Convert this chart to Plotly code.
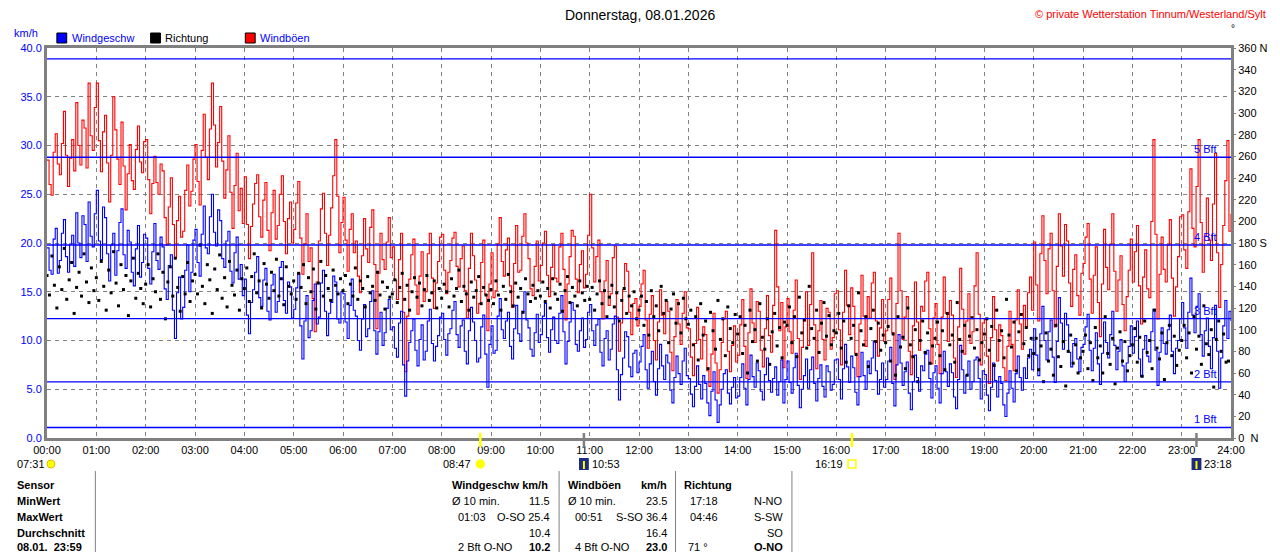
import plotly.graph_objects as go

# the page body has an 8px margin, so the figure is drawn offset by 8px
OFF = 8
W, H = 1280 - OFF, 552 - OFF
# plot area in screen pixels (left, right, top, bottom)
L, R, T, B = 40, 1240, 48, 438

BLUE = '#0000ff'
RED = '#ff0000'
GRID = '#808080'
FONT = 'Arial, Liberation Sans, sans-serif'

# wind speed km/h, one value every 2.5 minutes (00:00 ... 24:00)
wind_speed = [
    19.5, 17.2, 16.8, 20.4, 21.5, 16.9, 18.2, 21.0, 22.4, 18.6, 17.0, 19.9,
    20.8, 17.6, 23.1, 20.0, 18.5, 22.8, 21.9, 18.1, 24.2, 20.7, 19.6, 23.0,  # 00
    25.4, 20.2, 18.3, 23.7, 22.6, 18.9, 16.1, 19.8, 21.0, 16.7, 19.2, 22.1,
    23.5, 18.8, 17.4, 21.3, 20.1, 17.0, 15.6, 19.4, 21.8, 16.5, 18.0, 20.9,  # 01
    20.5, 17.4, 15.8, 19.1, 22.0, 18.2, 17.3, 20.6, 19.6, 15.3, 14.2, 17.7,
    18.8, 13.1, 10.2, 14.9, 16.5, 12.2, 13.4, 17.2, 19.8, 15.0, 17.0, 20.3,  # 02
    21.4, 18.0, 16.6, 20.9, 23.8, 19.5, 18.9, 22.7, 25.0, 21.1, 19.7, 23.4,
    22.3, 18.4, 17.5, 20.2, 21.2, 17.1, 15.9, 19.0, 20.6, 16.3, 17.8, 14.6,  # 03
    16.3, 12.6, 10.7, 13.9, 15.2, 17.0, 18.6, 14.4, 13.5, 16.2, 17.4, 13.0,
    12.1, 15.7, 16.8, 12.9, 14.0, 17.5, 18.1, 14.1, 12.8, 16.0, 15.5, 12.3,  # 04
    13.2, 15.4, 16.9, 11.5, 8.1, 12.0, 14.6, 10.3, 11.0, 14.1, 15.8, 11.7,
    12.4, 15.9, 17.2, 13.0, 10.5, 12.8, 13.9, 16.6, 16.0, 12.2, 11.8, 15.0,  # 05
    14.8, 11.9, 10.2, 13.6, 16.3, 13.1, 12.5, 10.0, 9.0, 12.2, 13.7, 10.4,
    11.2, 14.0, 15.1, 11.0, 8.6, 10.9, 12.9, 9.5, 10.8, 13.3, 14.2, 11.1,  # 06
    11.4, 9.2, 8.3, 11.8, 13.0, 7.5, 4.3, 7.9, 9.8, 11.0, 12.2, 9.0,
    7.4, 10.1, 11.6, 8.0, 8.9, 12.0, 13.2, 9.7, 7.9, 9.4, 10.5, 12.4,  # 07
    12.8, 10.1, 8.5, 10.7, 11.2, 13.1, 14.0, 10.6, 9.3, 11.5, 12.1, 8.9,
    7.6, 11.0, 13.4, 11.9, 10.0, 7.8, 8.2, 11.4, 12.6, 8.6, 5.2, 9.6,  # 08
    11.5, 8.7, 9.0, 12.5, 14.3, 11.1, 10.2, 12.0, 12.9, 9.4, 8.1, 11.2,
    13.6, 10.7, 9.9, 13.0, 15.0, 12.1, 11.3, 9.1, 8.4, 10.8, 12.7, 9.8,  # 09
    10.6, 12.5, 13.8, 10.3, 8.8, 11.1, 12.4, 10.0, 9.7, 12.8, 14.6, 10.9,
    7.6, 9.9, 11.9, 13.9, 13.1, 9.6, 8.9, 11.0, 12.3, 9.3, 10.1, 12.9,  # 10
    13.7, 11.0, 9.5, 11.6, 12.2, 8.8, 7.4, 10.2, 11.0, 8.0, 9.1, 11.7,
    12.5, 7.0, 3.9, 6.5, 8.2, 10.9, 10.4, 7.3, 6.3, 8.7, 9.0, 6.7,  # 11
    7.8, 9.4, 10.6, 7.0, 5.1, 7.6, 8.9, 5.8, 4.4, 7.1, 9.6, 7.4,
    6.0, 8.5, 7.7, 4.9, 3.6, 6.2, 8.4, 6.6, 5.5, 7.9, 9.2, 6.4,  # 12
    6.1, 4.5, 3.2, 5.3, 7.4, 5.5, 4.0, 6.4, 5.6, 3.6, 2.3, 4.8,
    6.8, 3.9, 1.6, 3.4, 5.0, 6.6, 7.0, 4.6, 3.5, 5.2, 6.2, 4.1,  # 13
    4.3, 6.2, 7.6, 5.1, 3.4, 6.0, 8.5, 6.3, 5.2, 7.7, 6.9, 4.8,
    3.9, 6.5, 8.2, 5.9, 4.7, 6.1, 7.3, 4.4, 5.8, 8.0, 3.6, 6.0,  # 14
    7.9, 5.7, 4.6, 7.2, 8.7, 5.4, 3.1, 5.0, 6.4, 8.1, 5.1, 7.0,
    8.3, 5.6, 3.8, 6.1, 7.5, 5.3, 4.2, 7.4, 6.8, 4.9, 5.5, 8.0,  # 15
    8.1, 6.0, 4.0, 7.1, 9.6, 7.3, 5.7, 8.4, 7.2, 4.7, 3.4, 6.3,
    8.8, 6.4, 5.0, 7.9, 6.6, 8.2, 9.9, 6.9, 4.5, 6.0, 7.7, 5.2,  # 16
    6.0, 7.9, 9.3, 5.6, 3.3, 7.5, 10.6, 7.7, 5.4, 6.8, 7.8, 4.6,
    2.9, 5.8, 8.5, 6.2, 4.8, 7.4, 6.9, 8.6, 9.0, 6.1, 4.1, 6.7,  # 17
    7.4, 5.1, 3.6, 6.6, 8.9, 6.8, 5.3, 7.6, 6.7, 4.2, 3.0, 6.0,
    9.5, 7.0, 4.6, 6.4, 7.9, 5.0, 5.8, 8.0, 8.3, 6.1, 4.0, 6.9,  # 18
    6.5, 4.4, 2.8, 5.2, 7.7, 5.9, 4.2, 6.3, 5.6, 3.4, 2.2, 4.6,
    6.9, 5.1, 3.7, 6.6, 8.4, 6.2, 4.9, 7.2, 6.1, 8.2, 9.1, 7.0,  # 19
    11.2, 8.5, 6.4, 10.7, 13.5, 10.0, 8.0, 10.9, 12.1, 8.3, 5.7, 9.9,
    14.4, 11.8, 9.1, 12.8, 11.6, 8.8, 7.3, 9.7, 10.2, 8.1, 6.8, 9.3,  # 20
    9.6, 11.4, 12.7, 9.0, 6.9, 9.2, 10.8, 7.6, 5.5, 8.7, 11.9, 9.8,
    8.2, 10.6, 13.0, 9.5, 7.0, 8.9, 10.1, 7.4, 5.8, 7.7, 9.4, 11.5,  # 21
    8.7, 10.4, 12.0, 8.1, 6.3, 9.1, 10.5, 8.4, 7.8, 10.9, 13.2, 9.0,
    5.4, 8.8, 11.3, 9.7, 8.6, 11.1, 12.6, 8.9, 6.6, 9.2, 10.0, 12.2,  # 22
    13.9, 11.3, 9.2, 12.9, 16.4, 12.6, 10.8, 13.5, 14.8, 10.6, 8.4, 11.0,
    12.3, 9.4, 7.1, 10.3, 13.6, 8.9, 5.1, 8.2, 11.5, 14.1, 10.2, 13.0, 12.0,  # 23
]

# gusts km/h, one value every 2.5 minutes
wind_gust = [
    28.5, 26.0, 24.9, 29.3, 31.2, 28.1, 27.0, 30.2, 33.5, 29.0, 25.8, 28.7,
    30.6, 27.4, 34.4, 30.0, 28.0, 32.6, 31.8, 27.7, 36.4, 31.0, 29.5, 33.9,  # 00
    36.4, 30.5, 27.3, 31.4, 33.1, 28.2, 24.2, 29.0, 35.0, 31.6, 28.6, 26.0,
    32.4, 27.9, 23.4, 27.1, 30.1, 26.4, 25.5, 29.6, 32.0, 28.3, 27.2, 30.4,  # 01
    30.6, 26.5, 23.0, 26.1, 28.9, 26.2, 25.0, 28.1, 27.4, 22.6, 19.8, 23.7,
    26.7, 21.9, 18.5, 22.3, 24.8, 20.6, 21.2, 25.4, 28.0, 23.8, 25.3, 28.6,  # 02
    30.1, 26.3, 23.9, 29.5, 33.2, 28.8, 26.5, 31.7, 36.4, 32.1, 27.8, 30.3,
    34.0, 28.4, 24.6, 27.5, 31.0, 25.2, 21.5, 25.9, 29.2, 23.3, 25.6, 22.0,  # 03
    26.8, 21.9, 18.4, 21.7, 24.0, 26.1, 27.0, 22.7, 20.6, 24.4, 26.2, 21.3,
    19.2, 23.1, 25.4, 20.4, 21.8, 25.0, 26.9, 22.2, 18.9, 22.5, 24.2, 20.0,  # 04
    21.4, 24.1, 26.3, 20.5, 16.8, 19.9, 23.0, 18.1, 19.5, 14.3, 10.9, 16.0,
    20.2, 23.5, 25.1, 21.0, 17.7, 20.8, 23.6, 26.9, 30.6, 24.8, 19.0, 22.1,  # 05
    24.7, 20.3, 17.1, 21.4, 23.0, 19.0, 20.2, 16.6, 14.9, 18.7, 22.5, 19.4,
    18.0, 21.6, 23.4, 17.8, 11.2, 16.9, 21.0, 18.3, 17.3, 20.1, 22.6, 18.5,  # 06
    19.6, 16.2, 14.2, 18.3, 21.0, 12.9, 6.8, 12.5, 16.3, 18.8, 20.4, 15.7,
    12.7, 16.6, 19.1, 14.0, 15.0, 18.9, 21.0, 16.4, 13.3, 15.9, 18.1, 20.6,  # 07
    20.9, 17.2, 14.8, 17.0, 18.2, 20.5, 21.1, 17.6, 15.5, 18.4, 19.7, 15.1,
    12.3, 17.4, 21.0, 18.7, 16.2, 12.8, 13.8, 18.0, 20.3, 14.7, 11.0, 15.8,  # 08
    19.0, 14.4, 15.1, 19.9, 22.6, 18.1, 16.6, 19.3, 20.5, 15.6, 13.4, 17.9,
    21.8, 17.0, 17.2, 20.7, 23.0, 20.0, 18.4, 15.3, 14.6, 17.6, 20.2, 16.1,  # 09
    17.7, 20.0, 21.2, 16.7, 14.5, 17.5, 19.8, 16.4, 16.0, 19.6, 21.0, 17.3,
    12.1, 15.8, 18.6, 21.3, 20.7, 16.3, 14.9, 17.8, 19.2, 15.4, 16.8, 20.8,  # 10
    25.0, 19.5, 16.0, 18.6, 20.3, 15.0, 12.2, 16.1, 18.2, 13.6, 14.8, 18.5,
    19.7, 12.4, 8.9, 11.8, 15.2, 17.9, 17.1, 12.9, 10.6, 13.8, 14.3, 11.5,  # 11
    13.5, 15.8, 17.2, 12.1, 9.2, 12.7, 14.6, 10.0, 8.0, 11.9, 15.2, 12.6,
    10.7, 14.0, 13.0, 8.8, 6.9, 10.4, 14.2, 11.7, 9.6, 12.8, 15.0, 11.3,  # 12
    11.2, 8.3, 6.4, 9.7, 13.4, 10.1, 8.1, 11.4, 10.6, 6.9, 5.3, 8.6,
    12.8, 7.7, 4.6, 7.0, 9.8, 12.2, 13.0, 8.9, 6.8, 9.5, 11.5, 7.8,  # 13
    8.5, 11.6, 14.2, 9.4, 6.1, 10.8, 15.3, 11.8, 9.8, 14.0, 13.0, 9.0,
    7.3, 11.2, 14.6, 10.5, 8.8, 13.6, 21.3, 15.5, 11.0, 13.9, 7.2, 11.4,  # 14
    14.3, 10.9, 8.7, 13.1, 16.2, 10.2, 6.0, 9.3, 12.0, 15.0, 9.5, 13.7,
    19.0, 11.6, 7.1, 11.0, 14.1, 10.1, 8.0, 13.3, 12.9, 9.1, 10.3, 14.8,  # 15
    15.1, 11.1, 7.5, 12.9, 17.2, 13.6, 10.6, 15.4, 13.5, 8.7, 6.3, 11.7,
    16.7, 12.5, 9.4, 14.5, 12.3, 15.9, 17.0, 12.0, 8.4, 11.3, 14.2, 9.9,  # 16
    11.0, 14.2, 16.4, 10.8, 6.0, 13.8, 21.0, 15.1, 10.1, 12.4, 14.5, 8.9,
    6.5, 11.5, 16.0, 11.9, 9.0, 13.5, 13.0, 16.1, 17.0, 11.2, 7.6, 12.3,  # 17
    13.8, 9.6, 6.6, 12.4, 16.5, 12.8, 9.9, 14.1, 12.6, 8.2, 6.2, 11.4,
    17.4, 13.2, 8.6, 12.0, 14.8, 9.7, 10.9, 15.6, 19.0, 12.7, 7.5, 11.8,  # 18
    12.2, 8.4, 5.6, 10.3, 14.5, 11.1, 7.9, 11.6, 10.5, 7.2, 5.9, 9.4,
    13.0, 9.6, 6.9, 12.1, 15.2, 11.7, 9.1, 13.6, 11.4, 14.9, 16.5, 13.1,  # 19
    20.1, 15.7, 12.0, 18.9, 22.8, 18.2, 14.8, 19.4, 21.0, 15.1, 11.4, 17.6,
    23.0, 19.7, 16.6, 21.9, 20.2, 15.9, 13.5, 17.3, 18.8, 14.6, 12.6, 16.9,  # 20
    17.9, 20.6, 22.0, 16.3, 12.8, 16.7, 19.6, 13.9, 10.4, 15.8, 21.4, 17.5,
    15.2, 19.9, 23.0, 17.1, 13.0, 16.2, 18.7, 13.7, 11.0, 14.5, 17.2, 20.4,  # 21
    16.0, 19.1, 21.8, 15.6, 11.7, 16.5, 19.3, 15.3, 14.4, 22.2, 30.6, 20.9,
    12.2, 16.8, 20.6, 17.3, 16.0, 19.8, 22.4, 16.4, 12.5, 15.5, 18.6, 22.7,  # 22
    22.9, 19.3, 17.4, 23.2, 27.6, 21.5, 19.6, 25.8, 30.6, 22.1, 17.0, 20.7,
    24.6, 20.3, 18.2, 24.0, 29.2, 19.0, 13.4, 17.8, 21.8, 26.4, 30.5, 21.2, 23.0,  # 23
]

# wind direction in degrees, one value every 3 minutes
wind_dir = [
    150, 132, 168, 141, 120, 158, 137, 175, 128, 146, 162, 115, 139, 153, 131, 170, 144, 125, 157, 136,  # 00
    148, 127, 163, 140, 118, 155, 134, 172, 143, 122, 160, 137, 150, 113, 145, 166, 129, 152, 138, 124,  # 01
    142, 160, 121, 147, 135, 170, 128, 153, 110, 144, 158, 131, 166, 139, 117, 149, 133, 162, 126, 145,  # 02
    151, 133, 178, 140, 124, 160, 146, 115, 156, 137, 169, 129, 148, 121, 163, 141, 132, 155, 118, 147,  # 03
    138, 157, 126, 149, 170, 134, 145, 120, 161, 142, 129, 153, 136, 165, 131, 147, 123, 158, 140, 133,  # 04
    145, 128, 152, 139, 160, 124, 148, 135, 156, 119, 143, 163, 131, 150, 138, 127, 155, 141, 133, 147,  # 05
    136, 150, 124, 142, 131, 157, 128, 145, 138, 121, 149, 134, 140, 127, 153, 132, 144, 119, 139, 130,  # 06
    133, 146, 125, 139, 152, 128, 141, 118, 135, 148, 130, 143, 122, 137, 150, 127, 134, 145, 120, 138,  # 07
    129, 142, 135, 121, 147, 131, 138, 155, 126, 140, 133, 118, 144, 130, 136, 149, 124, 139, 132, 127,  # 08
    137, 124, 145, 132, 118, 140, 128, 151, 135, 122, 143, 130, 138, 116, 147, 133, 126, 141, 129, 136,  # 09
    131, 144, 126, 138, 120, 147, 133, 128, 142, 117, 136, 149, 125, 139, 131, 122, 145, 134, 127, 140,  # 10
    128, 139, 118, 133, 145, 124, 136, 112, 130, 141, 121, 134, 108, 127, 138, 115, 131, 122, 135, 110,  # 11
    118, 131, 104, 126, 95, 136, 112, 122, 99, 140, 115, 127, 88, 119, 133, 106, 124, 97, 129, 110,  # 12
    105, 118, 86, 112, 72, 124, 95, 108, 64, 116, 99, 82, 127, 91, 110, 76, 121, 101, 88, 114,  # 13
    96, 112, 78, 104, 60, 118, 89, 100, 71, 124, 93, 82, 110, 68, 98, 115, 85, 102, 74, 107,  # 14
    104, 121, 88, 112, 75, 130, 97, 109, 83, 140, 101, 92, 118, 79, 106, 125, 94, 113, 86, 99,  # 15
    97, 115, 83, 108, 70, 122, 92, 104, 77, 134, 99, 86, 112, 66, 101, 118, 89, 106, 81, 95,  # 16
    88, 103, 71, 96, 58, 112, 84, 93, 64, 120, 86, 75, 100, 52, 90, 108, 79, 97, 69, 85,  # 17
    92, 107, 76, 99, 63, 115, 86, 95, 70, 125, 91, 80, 104, 58, 94, 111, 83, 100, 72, 88,  # 18
    96, 110, 81, 103, 67, 118, 90, 99, 74, 128, 95, 84, 107, 62, 98, 114, 87, 102, 76, 92,  # 19
    78, 92, 63, 85, 52, 97, 71, 82, 58, 104, 75, 66, 89, 48, 80, 95, 69, 86, 60, 74,  # 20
    80, 95, 64, 88, 53, 102, 74, 85, 60, 112, 78, 68, 92, 50, 83, 98, 71, 89, 62, 76,  # 21
    86, 101, 70, 93, 57, 108, 79, 90, 64, 118, 83, 73, 97, 54, 88, 104, 76, 94, 67, 81,  # 22
    90, 104, 74, 97, 60, 112, 82, 94, 68, 122, 87, 77, 100, 47, 91, 108, 80, 96, 70, 71,  # 23
]

hour_labels = ['%02d:00' % h for h in range(25)]
dir_ticks = list(range(0, 361, 20))
dir_labels = ['0  N' if d == 0 else '180 S' if d == 180 else '360 N' if d == 360 else str(d)
              for d in dir_ticks]

# Beaufort thresholds in km/h
bft_levels = [1.08, 5.76, 12.24, 19.8, 28.8, 38.88]
bft_labels = ['1 Bft', '2 Bft', '3 Bft', '4 Bft', '5 Bft', '']

# sun / moon events (hour, label, kind)
events = [(8 + 47 / 60, '08:47', 'sun'), (10 + 53 / 60, '10:53', 'moon'),
          (16 + 19 / 60, '16:19', 'sun'), (23 + 18 / 60, '23:18', 'moon')]


def px(x):
    # screen pixel -> paper fraction
    return (x - L) / (R - L)


def py(y):
    return (B - y) / (B - T)


speed_t = [i * 2.5 / 60 for i in range(len(wind_speed))]
gust_t = [i * 2.5 / 60 for i in range(len(wind_gust))]
dir_t = [i * 3 / 60 for i in range(len(wind_dir))]

fig = go.Figure()
fig.add_trace(go.Scatter(x=gust_t, y=wind_gust, mode='lines', line_shape='hv',
                         line=dict(color=RED, width=1.1), name='Windböen'))
fig.add_trace(go.Scatter(x=speed_t, y=wind_speed, mode='lines', line_shape='hv',
                         line=dict(color=BLUE, width=1.1), name='Windgeschw'))
fig.add_trace(go.Scatter(x=dir_t, y=wind_dir, mode='markers', yaxis='y2',
                         marker=dict(symbol='square', size=3, color='black', line_width=0),
                         name='Richtung'))

shapes = []
annotations = []


def txt(x, y, s, anchor='left', bold=False, color='black', size=11):
    annotations.append(dict(
        x=px(x), y=py(y), xref='paper', yref='paper', text='<b>%s</b>' % s if bold else s,
        showarrow=False, xanchor=anchor, yanchor='middle',
        font=dict(family=FONT, size=size, color=color)))


# Beaufort lines
for lvl, lab in zip(bft_levels, bft_labels):
    shapes.append(dict(type='line', xref='paper', yref='y', x0=0, x1=1, y0=lvl, y1=lvl,
                       line=dict(color=BLUE, width=1.4), layer='above'))
    if lab:
        annotations.append(dict(x=px(1228), y=lvl, xref='paper', yref='y', text=lab,
                                showarrow=False, xanchor='right', yanchor='bottom', yshift=0,
                                font=dict(family=FONT, size=11, color=BLUE)))

# header
txt(641, 15, 'Donnerstag, 08.01.2026', anchor='center', size=14)
txt(1277, 14, '© private Wetterstation Tinnum/Westerland/Sylt', anchor='right', color=RED, size=11)
txt(1242, 29, '°', anchor='center', size=10)
txt(5, 33, 'km/h', color=BLUE)

# legend
for x0, col, lab, tcol in [(50, BLUE, 'Windgeschw', BLUE), (145, 'black', 'Richtung', 'black'),
                           (241, RED, 'Windböen', BLUE)]:
    shapes.append(dict(type='rect', xref='paper', yref='paper', x0=px(x0), x1=px(x0 + 10),
                       y0=py(43), y1=py(33), fillcolor=col, line=dict(color='black', width=1)))
    txt(x0 + 13, 38, lab, color=tcol)

# sunrise marker
txt(8, 464, '07:31')
shapes.append(dict(type='circle', xref='paper', yref='paper', x0=px(40), x1=px(48),
                   y0=py(468), y1=py(460), fillcolor='#ffff00', line=dict(color='#e0c000', width=1)))

for t, lab, kind in events:
    xp = L + t / 24 * (R - L)
    tick_col = '#ffff00' if kind == 'sun' else GRID
    shapes.append(dict(type='line', xref='paper', yref='paper', x0=px(xp), x1=px(xp),
                       y0=py(433), y1=py(447), line=dict(color=tick_col, width=2.5)))
    if kind == 'sun':
        shapes.append(dict(type='rect' if lab == '16:19' else 'circle', xref='paper', yref='paper',
                           x0=px(xp - 4), x1=px(xp + 4), y0=py(468), y1=py(460),
                           fillcolor='white' if lab == '16:19' else '#ffff00',
                           line=dict(color='#ffff00', width=1.5)))
        txt(xp - 7, 464, lab, anchor='right')
    else:
        shapes.append(dict(type='rect', xref='paper', yref='paper', x0=px(xp - 5), x1=px(xp + 5),
                           y0=py(470), y1=py(458), fillcolor='#1c2a80', line=dict(width=0)))
        shapes.append(dict(type='line', xref='paper', yref='paper', x0=px(xp), x1=px(xp),
                           y0=py(461), y1=py(469), line=dict(color='#ffff00', width=2)))
        txt(xp + 6, 464, lab)

# table separators
for xs in [89, 559, 677, 795]:
    shapes.append(dict(type='line', xref='paper', yref='paper', x0=px(xs), x1=px(xs),
                       y0=py(471), y1=py(552), line=dict(color=GRID, width=1)))

rows_y = [485, 501, 517, 533, 547]
for y, lab in zip(rows_y, ['Sensor', 'MinWert', 'MaxWert', 'Durchschnitt', '08.01.  23:59']):
    txt(8, y, lab, bold=True)

# Windgeschw column
txt(448, rows_y[0], 'Windgeschw km/h', bold=True)
txt(448, rows_y[1], 'Ø 10 min.')
txt(552, rows_y[1], '11.5', anchor='right')
txt(455, rows_y[2], '01:03')
txt(552, rows_y[2], 'O-SO 25.4', anchor='right')
txt(552, rows_y[3], '10.4', anchor='right')
txt(455, rows_y[4], '2 Bft O-NO')
txt(552, rows_y[4], '10.2', anchor='right', bold=True)

# Windböen column
txt(566, rows_y[0], 'Windböen', bold=True)
txt(670, rows_y[0], 'km/h', anchor='right', bold=True)
txt(566, rows_y[1], 'Ø 10 min.')
txt(670, rows_y[1], '23.5', anchor='right')
txt(573, rows_y[2], '00:51')
txt(670, rows_y[2], 'S-SO 36.4', anchor='right')
txt(670, rows_y[3], '16.4', anchor='right')
txt(573, rows_y[4], '4 Bft O-NO')
txt(670, rows_y[4], '23.0', anchor='right', bold=True)

# Richtung column
txt(684, rows_y[0], 'Richtung', bold=True)
txt(690, rows_y[1], '17:18')
txt(788, rows_y[1], 'N-NO', anchor='right')
txt(690, rows_y[2], '04:46')
txt(788, rows_y[2], 'S-SW', anchor='right')
txt(788, rows_y[3], 'SO', anchor='right')
txt(688, rows_y[4], '71 °')
txt(788, rows_y[4], 'O-NO', anchor='right', bold=True)

fig.update_layout(
    width=W, height=H, autosize=False,
    margin=dict(l=L - OFF, r=1280 - R, t=T - OFF, b=552 - B, pad=0),
    plot_bgcolor='white', paper_bgcolor='white',
    showlegend=False,
    font=dict(family=FONT, size=11, color='black'),
    xaxis=dict(range=[0, 24], tickvals=list(range(25)), ticktext=hour_labels,
               showgrid=True, gridcolor=GRID, griddash='4px,4px', gridwidth=1,
               showline=True, linecolor=GRID, linewidth=3, mirror=True,
               zeroline=False, ticks='', tickfont=dict(size=11, color='black')),
    yaxis=dict(range=[0, 40], tickvals=[0, 5, 10, 15, 20, 25, 30, 35, 40], tickformat='.1f',
               tickfont=dict(size=11, color=BLUE),
               showgrid=True, gridcolor=GRID, griddash='4px,4px', gridwidth=1,
               showline=True, linecolor=GRID, linewidth=3, mirror=True,
               zeroline=False, ticks=''),
    yaxis2=dict(range=[0, 360], overlaying='y', side='right', tickvals=dir_ticks,
                ticktext=dir_labels, ticks='outside', ticklen=4, tickcolor=GRID,
                tickfont=dict(size=11, color='black'), showgrid=False, zeroline=False,
                showline=False),
    shapes=shapes,
    annotations=annotations,
)

fig.write_html('out.html')
